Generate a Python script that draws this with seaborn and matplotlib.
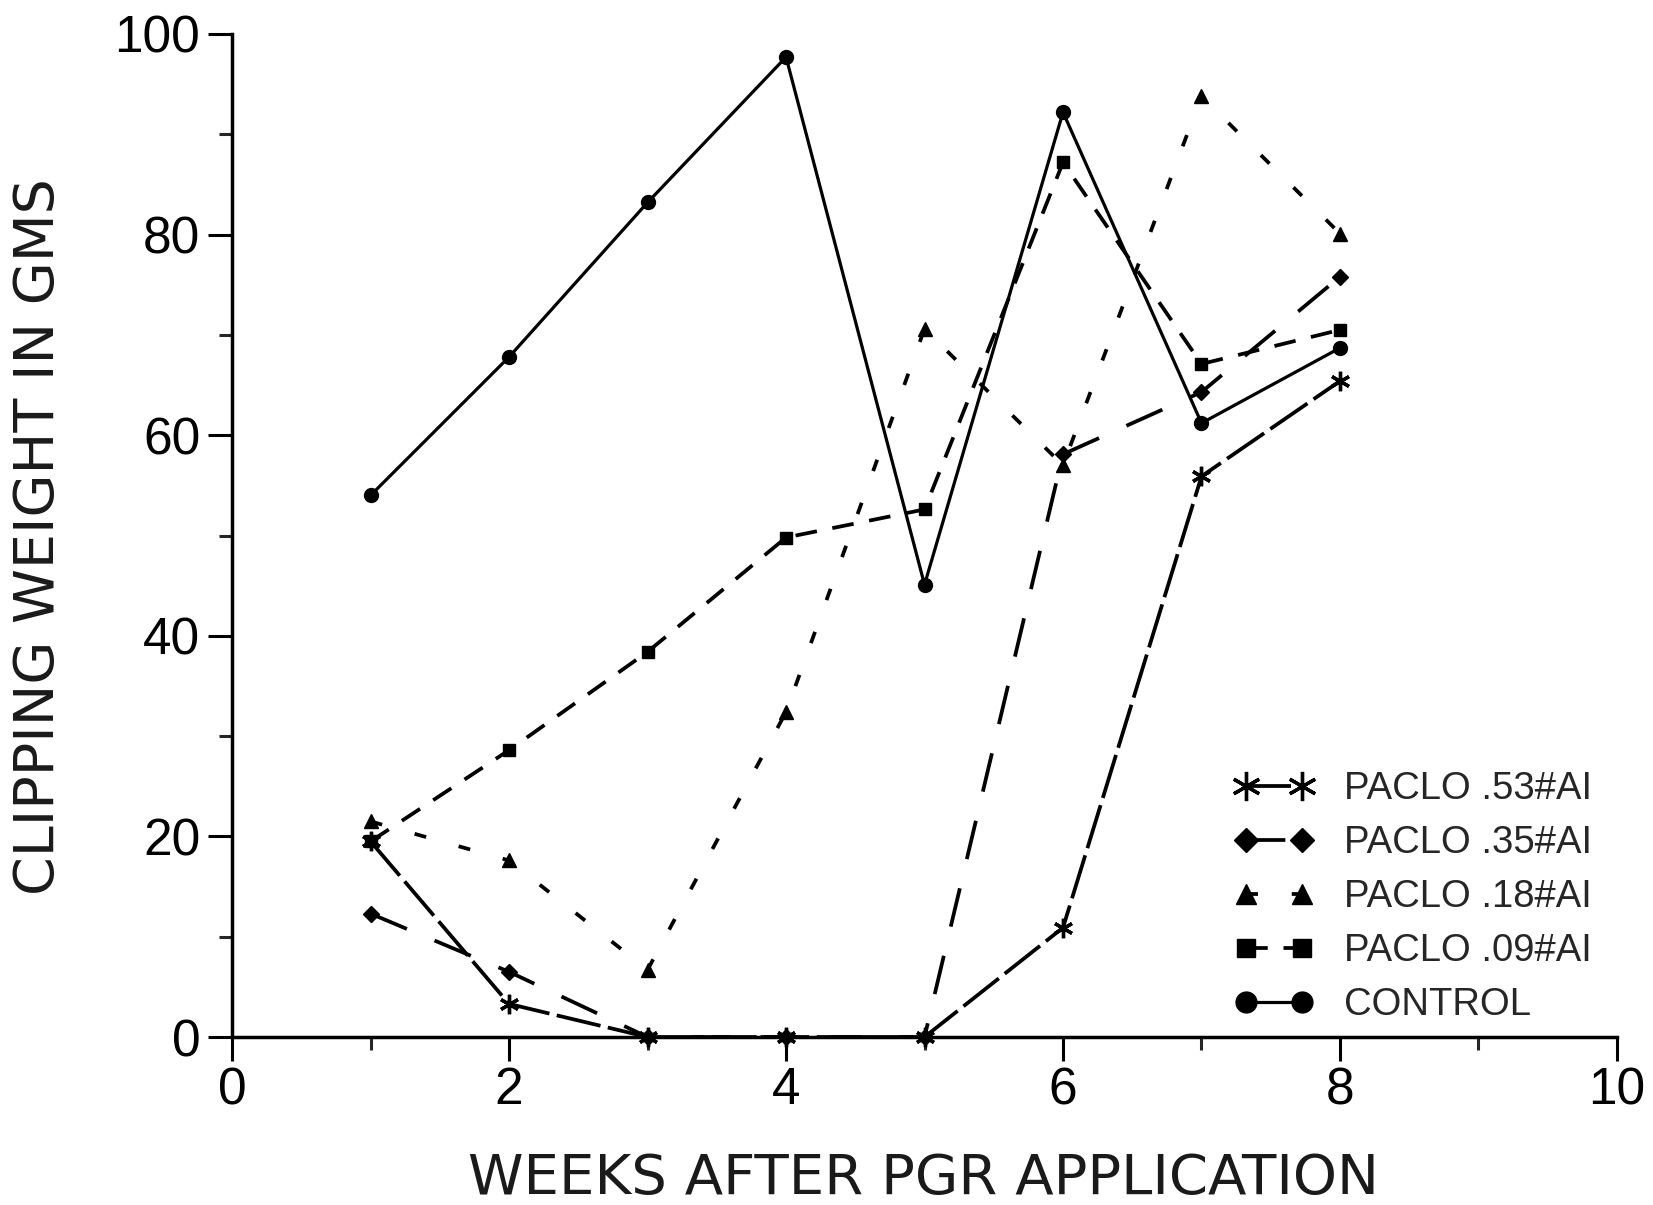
import matplotlib
matplotlib.use("Agg")
import matplotlib.pyplot as plt
import seaborn as sns
from matplotlib.ticker import MultipleLocator

weeks = [1, 2, 3, 4, 5, 6, 7, 8]
paclo_53 = [19.5, 3.3, 0, 0, 0, 10.9, 55.9, 65.4]
paclo_35 = [12.3, 6.5, 0, 0, 0, 58.1, 64.3, 75.8]
paclo_18 = [21.5, 17.6, 6.7, 32.4, 70.6, 57.0, 93.8, 80.1]
paclo_09 = [19.5, 28.6, 38.4, 49.8, 52.6, 87.2, 67.1, 70.5]
control = [54.0, 67.8, 83.2, 97.7, 45.1, 92.2, 61.2, 68.7]

series_labels = ["PACLO .53#AI", "PACLO .35#AI", "PACLO .18#AI", "PACLO .09#AI", "CONTROL"]

sns.set_style("ticks")
plt.rcParams["font.family"] = ["Liberation Sans", "DejaVu Sans"]

fig = plt.figure(figsize=(16.53, 12.05), dpi=100)
ax = fig.add_axes([0.1404, 0.1394, 0.8378, 0.8324])

# marker, dash pattern (in linewidth units), marker size, edge width
styles = [
    ((6, 2, 0), (12, 2), 14, 2.4),
    ("D", (10.5, 8), 8, 1),
    ("^", (3.2, 9), 10, 1),
    ("s", (5.8, 4.2), 9, 1),
    ("o", None, 10, 1),
]

all_values = [paclo_53, paclo_35, paclo_18, paclo_09, control]
for label, values, (marker, dash, ms, mew) in zip(series_labels, all_values, styles):
    ls = "-" if dash is None else (0, dash)
    sns.lineplot(
        x=weeks, y=values, ax=ax, label=label, color="black",
        marker=marker, markersize=ms, markeredgecolor="black",
        markeredgewidth=mew, linestyle=ls,
        linewidth=2.3 if dash is None else 2.7,
        errorbar=None, clip_on=False,
    )

ax.set_xlim(0, 10)
ax.set_ylim(0, 100)
ax.xaxis.set_major_locator(MultipleLocator(2))
ax.xaxis.set_minor_locator(MultipleLocator(1))
ax.yaxis.set_major_locator(MultipleLocator(20))
ax.yaxis.set_minor_locator(MultipleLocator(10))
sns.despine(ax=ax)
for side in ["left", "bottom"]:
    ax.spines[side].set_linewidth(2.5)
    ax.spines[side].set_color("black")
ax.tick_params(which="major", length=17, width=2.2, labelsize=37, colors="black")
ax.tick_params(which="minor", length=9.5, width=2.2)
ax.tick_params(axis="y", pad=6)
ax.tick_params(axis="x", pad=4)

ax.set_xlabel("")
ax.set_ylabel("")
fig.text(924 / 1653, 1 - 1179 / 1205, "WEEKS AFTER PGR APPLICATION",
         ha="center", va="center", fontsize=40.4, family="DejaVu Sans",
         color="#1a1a1a")
fig.text(39 / 1653, 1 - 536.5 / 1205, "CLIPPING WEIGHT IN GMS",
         ha="center", va="center", rotation=90, fontsize=40,
         family="DejaVu Sans", color="#1a1a1a")

ax.legend(
    loc="upper left", bbox_to_anchor=(0.7471, 0.360),
    bbox_transform=fig.transFigure, frameon=False, fontsize=27.5,
    numpoints=2, markerscale=1.5, handlelength=2.05, handletextpad=0.8,
    labelspacing=0.47, borderpad=0, borderaxespad=0,
)

fig.savefig("out.png", dpi=100)
